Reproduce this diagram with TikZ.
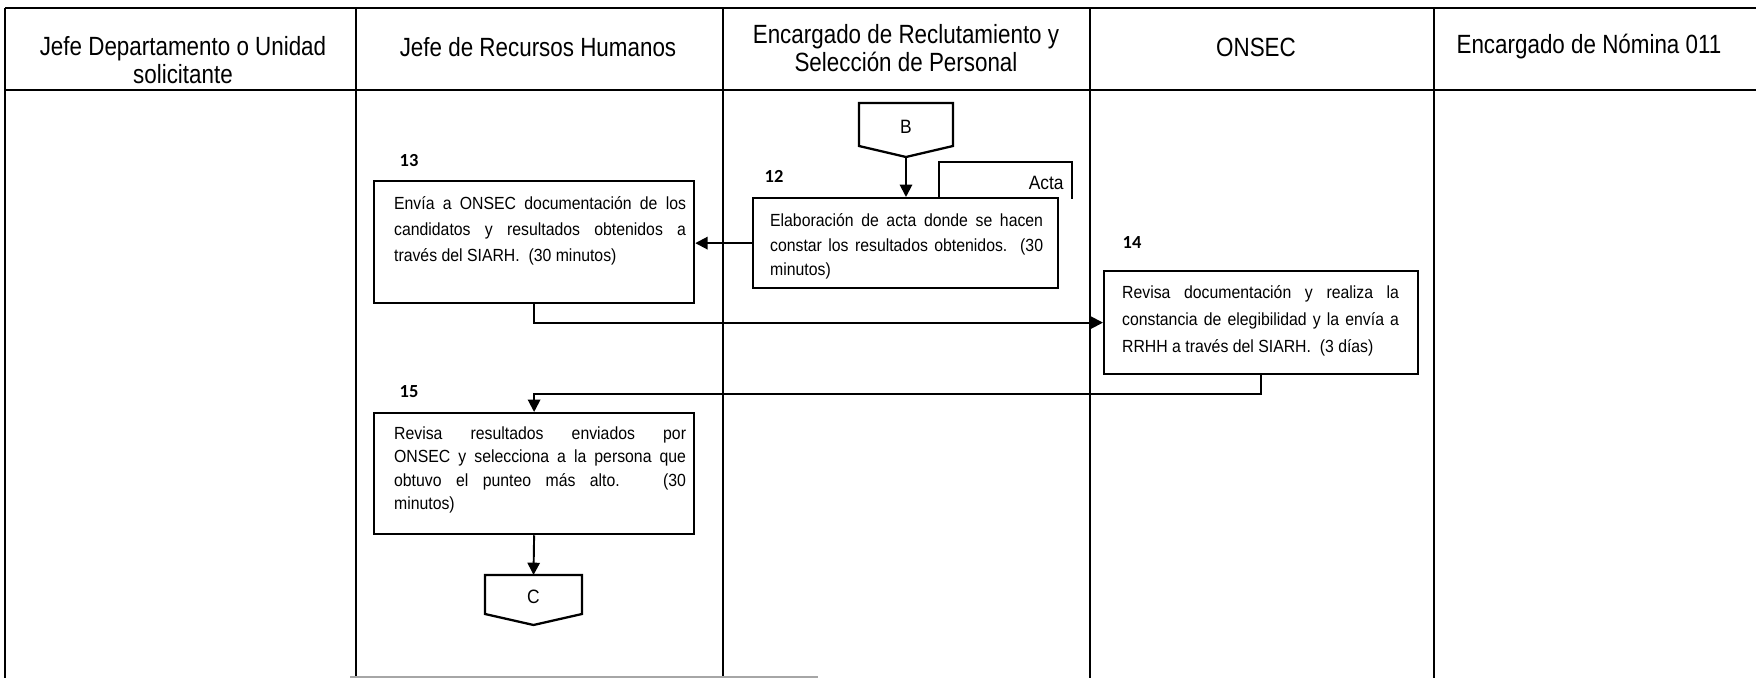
\documentclass[tikz,border=0pt]{standalone}
\usepackage{fontspec}
\setmainfont{Liberation Sans}[FakeStretch=0.9]
\newfontfamily\hdrfont{Liberation Sans}[FakeStretch=0.85]
\newfontfamily\numfont{Carlito}
\usetikzlibrary{arrows.meta}
\newcommand\fl[1]{\makebox[\linewidth][s]{#1}\\}
% #1 height, #2 left pad, #3 text width, #4 right pad, #5 baselineskip, #6 first baseline, #7 text
\newcommand\bx[7]{\hspace*{#2}\parbox[c][#1][t]{#3}{\fontsize{10pt}{#5}\selectfont\rule{0pt}{#6}#7}\hspace*{#4}}
\begin{document}
\begin{tikzpicture}[x=0.02cm,y=-0.02cm,
  lane/.style={line width=0.9pt},
  hdr/.style={font=\hdrfont\fontsize{15pt}{15.5pt}\selectfont, align=center, inner sep=0pt},
  proc/.style={draw, line width=1.3pt, fill=white, anchor=north west, inner sep=0pt},
  num/.style={font=\numfont\bfseries\fontsize{10.5pt}{12pt}\selectfont, inner sep=0pt},
  conn/.style={draw, line width=1.3pt, line join=miter},
  clab/.style={font=\fontsize{11pt}{12pt}\selectfont, inner sep=0pt},
  arr/.style={line width=1.1pt, -{Triangle[length=7pt,width=7pt]}}
]
\useasboundingbox (0,0) rectangle (1756,678);
\fill[white] (0,0) rectangle (1756,678);

% lanes
\draw[lane] (5,8) -- (1756,8);
\draw[lane] (5,90) -- (1756,90);
\draw[lane] (5,8) -- (5,678);
\foreach \xx in {356,723,1090,1434} \draw[lane] (\xx,8) -- (\xx,678);
\draw[gray!70, line width=1.2pt] (350,677) -- (818,677);

% headers
\node[hdr] (h1) at (183,60) {Jefe Departamento o Unidad\\solicitante};
\node[hdr] (h2) at (538,47) {Jefe de Recursos Humanos};
\node[hdr] (h3) at (906,48) {Encargado de Reclutamiento y\\Selección de Personal};
\node[hdr] (h4) at (1256,47) {ONSEC};
\node[hdr] (h5) at (1589,47) {Encargado de Nómina 011};

% connector B
\draw[conn] (859,103) -- (953,103) -- (953,146) -- (906,157) -- (859,146) -- cycle;
\coordinate (Bpt) at (906,157);
\node[clab] (Blab) at (906,127) {B};

% Acta document (behind box 12)
\draw[line width=1.3pt] (939,199) -- (939,162) -- (1072,162) -- (1072,199);
\node[clab, anchor=east] (acta) at (1064,183) {Acta};

% process boxes
\node[proc] (n12) at (752,197) {\bx{1.8cm}{0.34cm}{5.46cm}{0.3cm}{14.2pt}{15.9pt}{%
\fl{Elaboración de acta donde se hacen}
\fl{constar los resultados obtenidos.\ \ (30}
minutos)}};
\node[proc] (n13) at (373,180) {\bx{2.44cm}{0.4cm}{5.84cm}{0.16cm}{14.8pt}{15.9pt}{%
\fl{Envía a ONSEC documentación de los}
\fl{candidatos y resultados obtenidos a}
través del SIARH.\ \ (30 minutos)}};
\node[proc] (n14) at (1103,270) {\bx{2.06cm}{0.36cm}{5.54cm}{0.38cm}{15.4pt}{15.4pt}{%
\fl{Revisa documentación y realiza la}
\fl{constancia de elegibilidad y la envía a}
RRHH a través del SIARH.\ \ (3 días)}};
\node[proc] (n15) at (373,412) {\bx{2.42cm}{0.4cm}{5.84cm}{0.16cm}{13.4pt}{14.8pt}{%
\fl{Revisa resultados enviados por}
\fl{ONSEC y selecciona a la persona que}
\fl{obtuvo el punteo más alto.\ \ \ (30}
minutos)}};

% numbers
\node[num] (l12) at (774,176) {12};
\node[num] (l13) at (409,161) {13};
\node[num] (l14) at (1132,243) {14};
\node[num] (l15) at (409,392) {15};

% connector C
\draw[conn] (485,575) -- (582,575) -- (582,614) -- (533.5,625) -- (485,614) -- cycle;
\coordinate (Ctop) at (533.5,575);
\node[clab] (Clab) at (533.5,597) {C};

% flow
\draw[arr] (Bpt) -- (Bpt |- n12.north);
\draw[arr] (n12.west) -- (n12.west -| n13.east);
\draw[arr] (n13.south) |- (n14.west);
\draw[arr] (n14.south) -- ++(0,19) -| (n15.north);
\draw[arr] (n15.south) -- (Ctop);
\end{tikzpicture}
\end{document}
